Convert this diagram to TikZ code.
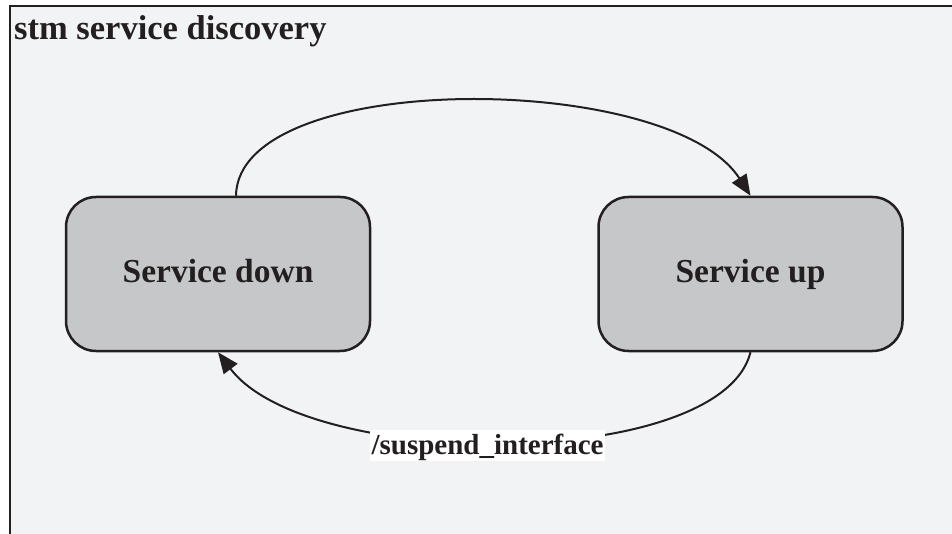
\documentclass[tikz,border=0pt]{standalone}
\usepackage{fontspec}
\setmainfont{Liberation Serif}
\usetikzlibrary{arrows.meta,calc}
\definecolor{bgc}{HTML}{F2F3F5}
\definecolor{boxc}{HTML}{C6C7C8}
\definecolor{inkc}{HTML}{231F20}
\tikzset{
  statebox/.style={draw=inkc, fill=boxc, line width=2.5pt, rounded corners=30pt,
    minimum width=304pt, minimum height=154pt, inner sep=0pt,
    text height=22pt, text depth=4pt,
    font=\fontsize{33.5}{36}\selectfont\bfseries, text=inkc},
  trans/.style={draw=inkc, line width=2pt, -{Triangle[length=21pt,width=17pt]}},
  translabel/.style={fill=white, inner xsep=1.5pt, inner ysep=2pt, text=inkc,
    text height=22pt, text depth=5pt,
    font=\fontsize{29}{32}\selectfont\bfseries},
  titletext/.style={anchor=base west, inner sep=0pt, text=inkc,
    font=\fontsize{34.5}{38}\selectfont\bfseries}
}
\begin{document}
\begin{tikzpicture}[x=1pt,y=-1pt]
\useasboundingbox (0,0) rectangle (952,534);
\clip (0,0) rectangle (952,534);
\fill[white] (0,0) rectangle (952,534);
\fill[bgc] (10,6) rectangle (960,540);
\draw[inkc, line width=2pt] (10,540) -- (10,6) -- (960,6);
\node[titletext] (title) at (14,40) {stm service discovery};
\node[statebox] (down) at (218,274) {Service down};
\node[statebox] (up) at (750.5,274) {Service up};
\draw[trans] ($(down.north)+(18,0)$) .. controls ($(down.north)+(20,-127)$) and ($(up.north)+(-80,-125)$) .. (up.north);
\draw[trans] (up.south) .. controls ($(up.south)+(-30,119)$) and ($(down.south)+(90,119)$) .. (down.south)
  node[translabel, pos=0.527, yshift=-4.5pt] (lbl) {/suspend\_interface};
\end{tikzpicture}
\end{document}
